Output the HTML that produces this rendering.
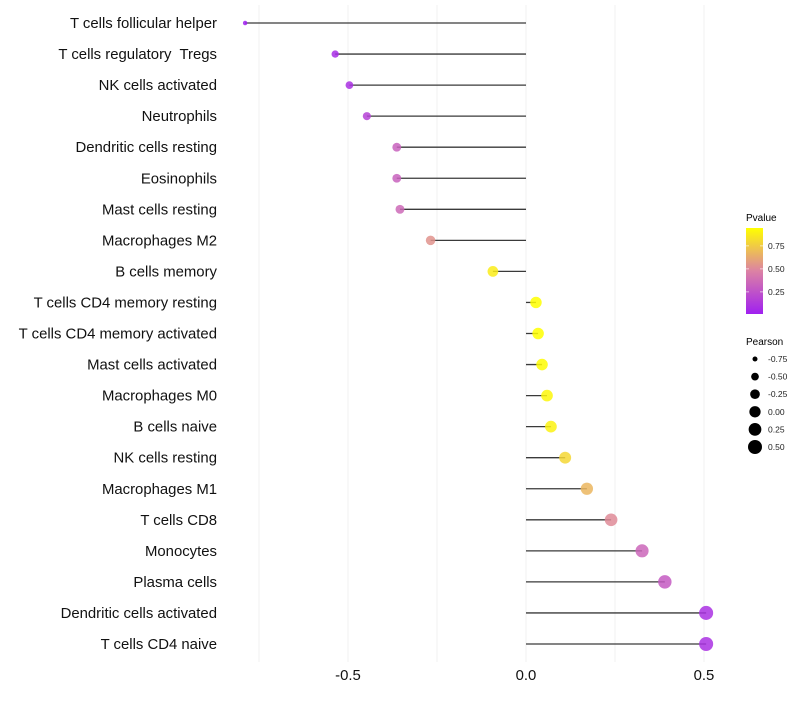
<!DOCTYPE html>
<html><head><meta charset="utf-8"><style>
body{margin:0;background:#fff;font-family:"Liberation Sans",sans-serif}
svg text{font-family:"Liberation Sans",sans-serif}
</style></head><body>
<svg id="chart" width="800" height="700">
<defs><linearGradient id="pg" x1="0" y1="1" x2="0" y2="0">
<stop offset="0" stop-color="#a020f0"/><stop offset="0.5" stop-color="#dc82a4"/><stop offset="1" stop-color="#ffff00"/>
</linearGradient></defs>
<g id="grid"></g><g id="marks"></g><g id="ylab"></g><g id="xlab"></g>
<g id="legend">
<text x="746" y="221" font-size="10">Pvalue</text>
<rect x="746" y="228" width="17" height="86" fill="url(#pg)"/>
<g id="pticks"></g>
<text x="746" y="345" font-size="10">Pearson</text>
<g id="sizeleg"></g>
</g>
</svg>
<script>
const categories=["T cells follicular helper","T cells regulatory  Tregs","NK cells activated","Neutrophils","Dendritic cells resting","Eosinophils","Mast cells resting","Macrophages M2","B cells memory","T cells CD4 memory resting","T cells CD4 memory activated","Mast cells activated","Macrophages M0","B cells naive","NK cells resting","Macrophages M1","T cells CD8","Monocytes","Plasma cells","Dendritic cells activated","T cells CD4 naive"];
const pearson=[-0.789,-0.536,-0.496,-0.447,-0.363,-0.363,-0.354,-0.268,-0.093,0.028,0.034,0.045,0.059,0.070,0.110,0.171,0.239,0.326,0.390,0.506,0.506];
const pvalues=[0.01,0.08,0.1,0.18,0.33,0.33,0.37,0.55,0.88,0.96,0.96,0.94,0.92,0.9,0.8,0.68,0.52,0.35,0.3,0.1,0.1];
const xTicks=[-0.5,0,0.5];
const xTickLabels=["-0.5","0.0","0.5"];
const gridVals=[-0.75,-0.5,-0.25,0,0.25,0.5];
const pTicks=[0.25,0.5,0.75];
const sizeLegend=[-0.75,-0.5,-0.25,0,0.25,0.5];
const NS="http://www.w3.org/2000/svg";
const X=v=>526+v*356;
const Y=i=>23+i*31.05;
const PY=p=>313-(p-0.02)*92;
const R=v=>Math.max(2,Math.sqrt(Math.max(0,31.9+34.2*v)));
function lerp(a,b,t){return a.map((c,i)=>Math.round(c+(b[i]-c)*t));}
function col(p){const t=Math.max(0,Math.min(1,(p-0.02)/0.93));
 const a=[160,32,240],m=[220,130,164],b=[255,255,0];
 const c=t<0.5?lerp(a,m,t*2):lerp(m,b,(t-0.5)*2);return `rgb(${c})`;}
function mk(tag,at,parent,txt){const e=document.createElementNS(NS,tag);for(const k in at)e.setAttribute(k,at[k]);if(txt!==undefined)e.textContent=txt;document.getElementById(parent).appendChild(e);return e;}
gridVals.forEach(v=>{const e=mk('line',{x1:X(v),x2:X(v),y1:5,y2:662,stroke:'#f0f0f0','stroke-width':1},'grid');

});
categories.forEach((c,i)=>{
 const l=mk('line',{x1:X(0),x2:X(pearson[i]),y1:Y(i),y2:Y(i),stroke:'#3a3a3a','stroke-width':1.3},'marks');
 
 
 const d=mk('circle',{cx:X(pearson[i]),cy:Y(i),r:R(pearson[i]),fill:col(pvalues[i]),'fill-opacity':0.85},'marks');
 
 
 const t=mk('text',{x:217,y:Y(i)+5,'text-anchor':'end','font-size':14.9,fill:'#111','xml:space':'preserve',style:'white-space:pre'},'ylab',c);
 
 
});
xTicks.forEach((v,i)=>{const t=mk('text',{x:X(v),y:680,'text-anchor':'middle','font-size':14.9,fill:'#111'},'xlab',xTickLabels[i]);

});
pTicks.forEach(p=>{mk('line',{x1:746,x2:749,y1:PY(p),y2:PY(p),stroke:'#fff','stroke-opacity':0.6},'pticks');
mk('line',{x1:760,x2:763,y1:PY(p),y2:PY(p),stroke:'#fff','stroke-opacity':0.6},'pticks');
const t=mk('text',{x:768,y:PY(p)+3,'font-size':8.5,fill:'#222'},'pticks',p.toFixed(2));

});
sizeLegend.forEach((v,i)=>{const y=359+i*17.6;
const c=mk('circle',{cx:755,cy:y,r:R(v),fill:'#000'},'sizeleg');


const t=mk('text',{x:768,y:y+3,'font-size':8.5,fill:'#222'},'sizeleg',v.toFixed(2));

});
</script>
</body></html>
